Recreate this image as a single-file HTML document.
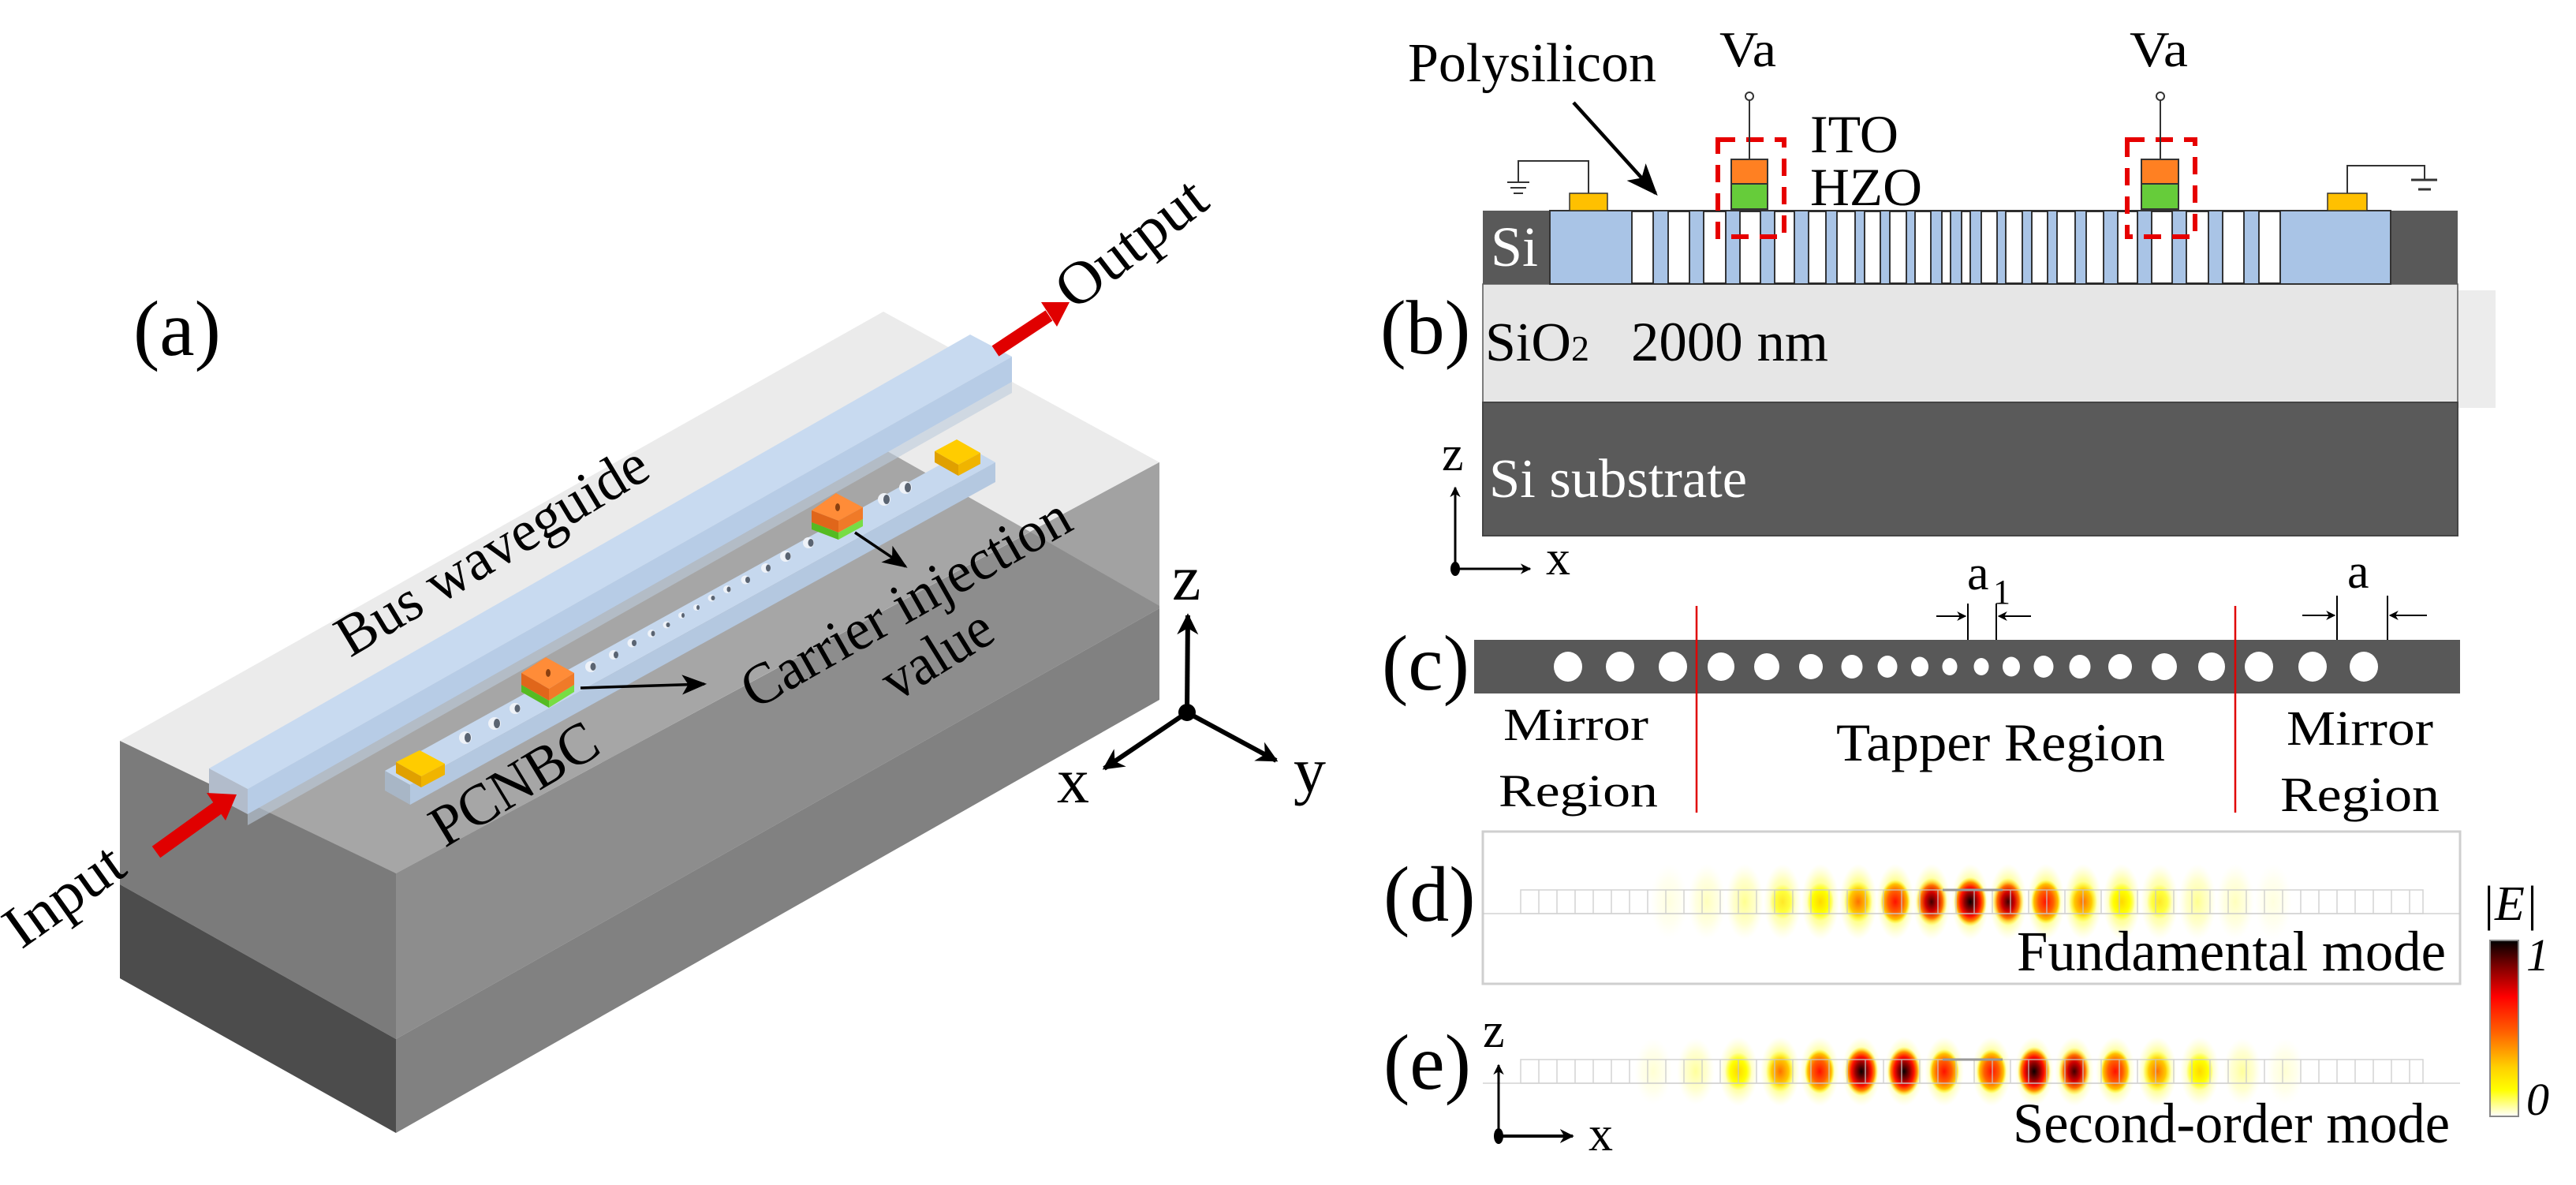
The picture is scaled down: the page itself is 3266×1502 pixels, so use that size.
<!DOCTYPE html>
<html><head><meta charset="utf-8">
<style>
html,body{margin:0;padding:0;background:#fff;}
svg{display:block;font-family:"Liberation Serif","DejaVu Serif","Times New Roman",serif;}
svg text{font-family:"Liberation Serif","DejaVu Serif","Times New Roman",serif;fill:#000;}
</style></head>
<body>
<svg width="3266" height="1502" viewBox="0 0 3266 1502" xmlns="http://www.w3.org/2000/svg" font-family="'Liberation Serif','DejaVu Serif',serif">
<defs>
<marker id="ah" viewBox="0 0 10 10" refX="9" refY="5" markerWidth="6" markerHeight="6" orient="auto-start-reverse" markerUnits="strokeWidth">
<path d="M0,0 L10,5 L0,10 L3,5 z" fill="#000"/></marker>
<marker id="ahs" viewBox="0 0 10 10" refX="9" refY="5" markerWidth="9" markerHeight="9" orient="auto" markerUnits="strokeWidth">
<path d="M0,1 L10,5 L0,9 L2.5,5 z" fill="#000"/></marker>
<marker id="ahl" viewBox="0 0 10 10" refX="9" refY="5" markerWidth="4.5" markerHeight="4.5" orient="auto" markerUnits="strokeWidth">
<path d="M0,0 L10,5 L0,10 L3,5 z" fill="#000"/></marker>
<radialGradient id="gH"><stop offset="0" stop-color="#ffff20" stop-opacity="1"/><stop offset="0.6" stop-color="#ffff60" stop-opacity="0.6"/><stop offset="1" stop-color="#ffffa0" stop-opacity="0"/></radialGradient>
<radialGradient id="gK"><stop offset="0" stop-color="#0a0000"/><stop offset="0.35" stop-color="#900000"/><stop offset="0.6" stop-color="#ff1000"/><stop offset="0.8" stop-color="#ff9000"/><stop offset="1" stop-color="#ffff00" stop-opacity="0"/></radialGradient>
<radialGradient id="gD"><stop offset="0" stop-color="#400000"/><stop offset="0.4" stop-color="#d00000"/><stop offset="0.7" stop-color="#ff7000"/><stop offset="1" stop-color="#ffff00" stop-opacity="0"/></radialGradient>
<radialGradient id="gR"><stop offset="0" stop-color="#ff1000"/><stop offset="0.5" stop-color="#ff6000"/><stop offset="0.8" stop-color="#ffc000"/><stop offset="1" stop-color="#ffff00" stop-opacity="0"/></radialGradient>
<radialGradient id="gO"><stop offset="0" stop-color="#ff7000"/><stop offset="0.6" stop-color="#ffc800"/><stop offset="1" stop-color="#ffff00" stop-opacity="0"/></radialGradient>
<radialGradient id="gY"><stop offset="0" stop-color="#ffd800"/><stop offset="0.6" stop-color="#ffff00"/><stop offset="1" stop-color="#ffff00" stop-opacity="0"/></radialGradient>
<linearGradient id="cb" x1="0" y1="0" x2="0" y2="1">
<stop offset="0" stop-color="#000"/><stop offset="0.15" stop-color="#800000"/><stop offset="0.32" stop-color="#ff0000"/><stop offset="0.52" stop-color="#ff6000"/><stop offset="0.72" stop-color="#ffd000"/><stop offset="0.85" stop-color="#ffff00"/><stop offset="1" stop-color="#ffffff"/></linearGradient>
</defs>

<!-- ================= PANEL (a) ================= -->
<text x="169" y="450" font-size="100">(a)</text>
<polygon points="152,939 1120,395 1470,586 502,1107" fill="#ebebeb"/>
<polygon points="300,1040 1118,568 1306,674 502,1107" fill="#a6a6a6"/>
<polygon points="502,1107 1470,586 1470,771 502,1317" fill="#8d8d8d"/>
<polygon points="1306,674 1470,586 1470,768" fill="#a2a2a2"/>
<polygon points="502,1317 1470,771 1470,887 502,1436" fill="#818181"/>
<polygon points="152,939 502,1107 502,1317 152,1121" fill="#7b7b7b"/>
<polygon points="152,1121 502,1317 502,1436 152,1240" fill="#4c4c4c"/>
<!-- bus waveguide -->
<polygon points="265,974 1230,424 1283,452 314,1000" fill="#c8daf0"/>
<polygon points="314,1000 1283,452 1283,484 314,1032" fill="#b7cce6"/>
<polygon points="314,1032 1283,484 1283,498 314,1046" fill="#bccbdc" opacity="0.6"/>
<polygon points="265,974 314,1000 314,1032 265,1006" fill="#b2bccb"/>
<!-- output arrow -->
<line x1="1262" y1="445" x2="1330" y2="400" stroke="#e00000" stroke-width="16"/>
<polygon points="1320,383 1356,383 1340,414" fill="#e00000"/>
<text x="1362" y="395" font-size="76" transform="rotate(-37.6 1362 395)" textLength="220" lengthAdjust="spacingAndGlyphs">Output</text>
<!-- input arrow -->
<line x1="198" y1="1080" x2="276" y2="1024" stroke="#e00000" stroke-width="18"/>
<polygon points="262,1005 300,1007 286,1040" fill="#e00000"/>
<text x="27" y="1204" font-size="76" transform="rotate(-35.5 27 1204)" textLength="168" lengthAdjust="spacingAndGlyphs">Input</text>
<!-- PCNBC bar -->
<polygon points="488,977 1230,568 1262,586 520,995" fill="#c6d8ee"/>
<polygon points="520,995 1262,586 1262,611 520,1020" fill="#b4c8e0"/>
<polygon points="488,977 520,995 520,1020 488,1002" fill="#a8b6c6"/>
<g fill="#eef2f8">
<ellipse cx="590" cy="935" rx="8" ry="8"/><ellipse cx="627" cy="917" rx="8" ry="8"/><ellipse cx="653" cy="898" rx="7" ry="7"/>
<ellipse cx="749" cy="845" rx="7" ry="7"/><ellipse cx="778" cy="830" rx="6" ry="6"/><ellipse cx="801" cy="815" rx="5.5" ry="5.5"/>
<ellipse cx="826" cy="803" rx="5" ry="5"/><ellipse cx="845" cy="792" rx="4.5" ry="4.5"/><ellipse cx="864" cy="780" rx="4" ry="4"/>
<ellipse cx="883" cy="770" rx="4" ry="4"/><ellipse cx="902" cy="758" rx="4.5" ry="4.5"/><ellipse cx="922" cy="747" rx="5" ry="5"/>
<ellipse cx="945" cy="735" rx="5.5" ry="5.5"/><ellipse cx="971" cy="720" rx="6" ry="6"/><ellipse cx="996" cy="705" rx="7" ry="7"/>
<ellipse cx="1025" cy="688" rx="7" ry="7"/><ellipse cx="1121" cy="633" rx="8" ry="8"/><ellipse cx="1148" cy="618" rx="8" ry="8"/>
</g>
<g fill="#5a6472">
<ellipse cx="593" cy="935" rx="4" ry="6"/><ellipse cx="630" cy="917" rx="4" ry="6"/><ellipse cx="656" cy="898" rx="3.5" ry="5"/>
<ellipse cx="752" cy="845" rx="3.5" ry="5"/><ellipse cx="781" cy="830" rx="3" ry="4.5"/><ellipse cx="804" cy="815" rx="3" ry="4"/>
<ellipse cx="828" cy="803" rx="2.5" ry="3.5"/><ellipse cx="847" cy="792" rx="2.5" ry="3"/><ellipse cx="866" cy="780" rx="2" ry="3"/>
<ellipse cx="885" cy="770" rx="2" ry="3"/><ellipse cx="904" cy="758" rx="2.5" ry="3"/><ellipse cx="924" cy="747" rx="2.5" ry="3.5"/>
<ellipse cx="948" cy="735" rx="3" ry="4"/><ellipse cx="974" cy="720" rx="3" ry="4.5"/><ellipse cx="999" cy="705" rx="3.5" ry="5"/>
<ellipse cx="1028" cy="688" rx="3.5" ry="5"/><ellipse cx="1124" cy="633" rx="4" ry="6"/><ellipse cx="1151" cy="618" rx="4" ry="6"/>
</g>
<polygon points="502,966 532,951 564,968 534,984" fill="#ffcc00"/>
<polygon points="502,966 534,984 534,998 502,980" fill="#e0a000"/>
<polygon points="534,984 564,968 564,982 534,998" fill="#f0b400"/>
<polygon points="1185,572 1213,557 1243,574 1215,589" fill="#ffcc00"/>
<polygon points="1185,572 1215,589 1215,603 1185,586" fill="#e0a000"/>
<polygon points="1215,589 1243,574 1243,588 1215,603" fill="#f0b400"/>
<polygon points="661,853 692,833 728,853 696,873" fill="#ff8c38"/>
<polygon points="661,853 696,873 696,888 661,868" fill="#e0661a"/>
<polygon points="696,873 728,853 728,868 696,888" fill="#f07a28"/>
<polygon points="661,868 696,888 696,897 661,877" fill="#55bb22"/>
<polygon points="696,888 728,868 728,877 696,897" fill="#77dd44"/>
<ellipse cx="695" cy="853" rx="3" ry="5" fill="#8a4010"/>
<polygon points="1029,647 1060,625 1094,643 1063,660" fill="#ff8c38"/>
<polygon points="1029,647 1063,660 1063,675 1029,662" fill="#e0661a"/>
<polygon points="1063,660 1094,643 1094,658 1063,675" fill="#f07a28"/>
<polygon points="1029,662 1063,675 1063,684 1029,671" fill="#55bb22"/>
<polygon points="1063,675 1094,658 1094,667 1063,684" fill="#77dd44"/>
<ellipse cx="1062" cy="643" rx="3" ry="5" fill="#8a4010"/>
<line x1="736" y1="872" x2="893" y2="867" stroke="#000" stroke-width="3.5" marker-end="url(#ahs)"/>
<line x1="1084" y1="675" x2="1148" y2="718" stroke="#000" stroke-width="3.5" marker-end="url(#ahs)"/>
<text x="444" y="834" font-size="74" transform="rotate(-31 444 834)" textLength="448" lengthAdjust="spacingAndGlyphs">Bus waveguide</text>
<text x="564" y="1075" font-size="74" transform="rotate(-31.2 564 1075)" textLength="235" lengthAdjust="spacingAndGlyphs">PCNBC</text>
<text x="957" y="900" font-size="74" transform="rotate(-29.5 957 900)" textLength="467" lengthAdjust="spacingAndGlyphs">Carrier injection</text>
<text x="1136" y="890" font-size="74" transform="rotate(-31.8 1136 890)" textLength="152" lengthAdjust="spacingAndGlyphs">value</text>
<g stroke="#000" stroke-width="6" fill="none">
<line x1="1505" y1="903" x2="1506" y2="780" marker-end="url(#ahl)"/>
<line x1="1505" y1="903" x2="1400" y2="974" marker-end="url(#ahl)"/>
<line x1="1505" y1="903" x2="1618" y2="964" marker-end="url(#ahl)"/>
</g>
<circle cx="1505" cy="903" r="11" fill="#000"/>
<text x="1486" y="760" font-size="82">z</text>
<text x="1340" y="1017" font-size="82">x</text>
<text x="1640" y="1004" font-size="82">y</text>

<!-- ================= PANEL (b) ================= -->
<text x="1750" y="448" font-size="98">(b)</text>
<text x="1785" y="103" font-size="70" textLength="315" lengthAdjust="spacingAndGlyphs">Polysilicon</text>
<line x1="1995" y1="130" x2="2099" y2="245" stroke="#000" stroke-width="4.5" marker-end="url(#ahs)"/>
<text x="2180" y="84" font-size="64" textLength="72" lengthAdjust="spacingAndGlyphs">Va</text>
<text x="2700" y="84" font-size="64" textLength="74" lengthAdjust="spacingAndGlyphs">Va</text>
<text x="2295" y="193" font-size="68" textLength="112" lengthAdjust="spacingAndGlyphs">ITO</text>
<text x="2295" y="260" font-size="68" textLength="142" lengthAdjust="spacingAndGlyphs">HZO</text>
<rect x="3116" y="368" width="48" height="149" fill="#ececec"/>
<rect x="1880" y="267" width="1236" height="93" fill="#595959"/>
<rect x="1880" y="360" width="1236" height="150" fill="#e6e6e6" stroke="#555" stroke-width="1.5"/>
<rect x="1880" y="510" width="1236" height="169" fill="#5a5a5a" stroke="#444" stroke-width="2"/>
<rect x="1965" y="267" width="1066" height="93" fill="#a9c4e6" stroke="#333" stroke-width="2"/>
<g fill="#fff" stroke="#222" stroke-width="1.8">
<rect x="2069" y="268" width="27" height="91"/><rect x="2115" y="268" width="27" height="91"/><rect x="2160" y="268" width="28" height="91"/>
<rect x="2206" y="268" width="26" height="91"/><rect x="2250" y="268" width="25" height="91"/><rect x="2293" y="268" width="22" height="91"/>
<rect x="2329" y="268" width="23" height="91"/><rect x="2364" y="268" width="20" height="91"/><rect x="2396" y="268" width="21" height="91"/>
<rect x="2428" y="268" width="20" height="91"/><rect x="2462" y="268" width="11" height="91"/>
<rect x="2487" y="268" width="11" height="91"/><rect x="2512" y="268" width="20" height="91"/><rect x="2543" y="268" width="21" height="91"/>
<rect x="2576" y="268" width="20" height="91"/><rect x="2608" y="268" width="23" height="91"/><rect x="2645" y="268" width="22" height="91"/>
<rect x="2685" y="268" width="25" height="91"/><rect x="2728" y="268" width="26" height="91"/><rect x="2772" y="268" width="28" height="91"/>
<rect x="2818" y="268" width="27" height="91"/><rect x="2864" y="268" width="27" height="91"/>
</g>
<text x="1890" y="337" font-size="72" style="fill:#fff">Si</text>
<text x="1883" y="457" font-size="70">SiO<tspan font-size="46">2</tspan></text>
<text x="2068" y="457" font-size="71" textLength="250" lengthAdjust="spacingAndGlyphs">2000 nm</text>
<text x="1888" y="630" font-size="70" style="fill:#fff" textLength="327" lengthAdjust="spacingAndGlyphs">Si substrate</text>
<rect x="2195" y="202" width="46" height="31" fill="#ff8022" stroke="#333" stroke-width="2"/>
<rect x="2195" y="233" width="46" height="32" fill="#66cc3a" stroke="#333" stroke-width="2"/>
<rect x="2715" y="202" width="47" height="31" fill="#ff8022" stroke="#333" stroke-width="2"/>
<rect x="2715" y="233" width="47" height="32" fill="#66cc3a" stroke="#333" stroke-width="2"/>
<g fill="none" stroke="#e60000" stroke-width="6" stroke-dasharray="22,14">
<rect x="2178" y="177" width="84" height="123"/>
<rect x="2697" y="177" width="86" height="123"/>
</g>
<g stroke="#333" stroke-width="2" fill="none">
<line x1="2218" y1="127" x2="2218" y2="202"/><circle cx="2218" cy="122" r="5" fill="#fff"/>
<line x1="2739" y1="127" x2="2739" y2="202"/><circle cx="2739" cy="122" r="5" fill="#fff"/>
<polyline points="2014,245 2014,204 1925,204 1925,230"/>
<line x1="1911" y1="231" x2="1939" y2="231"/><line x1="1915" y1="238" x2="1935" y2="238"/><line x1="1919" y1="245" x2="1931" y2="245"/>
<polyline points="2976,245 2976,210 3074,210 3074,228"/>
<line x1="3057" y1="228" x2="3090" y2="228" stroke-width="3"/><line x1="3066" y1="240" x2="3082" y2="240" stroke-width="3"/>
</g>
<rect x="1990" y="245" width="48" height="22" fill="#ffc000" stroke="#333" stroke-width="1.5"/>
<rect x="2951" y="245" width="50" height="22" fill="#ffc000" stroke="#333" stroke-width="1.5"/>
<line x1="1845" y1="721" x2="1845" y2="618" stroke="#000" stroke-width="3" marker-end="url(#ahl)"/>
<line x1="1845" y1="721" x2="1940" y2="721" stroke="#000" stroke-width="3" marker-end="url(#ahl)"/>
<ellipse cx="1845" cy="721" rx="6" ry="9" fill="#000"/>
<text x="1828" y="596" font-size="62">z</text>
<text x="1960" y="728" font-size="62">x</text>

<!-- ================= PANEL (c) ================= -->
<text x="1752" y="874" font-size="100">(c)</text>
<rect x="1869" y="811" width="1250" height="68" fill="#585858"/>
<g fill="#fff">
<ellipse cx="1988" cy="845" rx="18" ry="19"/><ellipse cx="2054" cy="845" rx="18" ry="19"/><ellipse cx="2121" cy="845" rx="18" ry="19"/>
<ellipse cx="2182" cy="845" rx="17" ry="18"/><ellipse cx="2240" cy="845" rx="16" ry="17"/><ellipse cx="2296" cy="845" rx="15" ry="16"/>
<ellipse cx="2348" cy="845" rx="13.5" ry="15"/><ellipse cx="2393" cy="845" rx="12.5" ry="14"/><ellipse cx="2434" cy="845" rx="11" ry="12.5"/>
<ellipse cx="2472" cy="845" rx="9.5" ry="11"/><ellipse cx="2512" cy="845" rx="9.5" ry="11"/><ellipse cx="2550" cy="845" rx="11" ry="12.5"/>
<ellipse cx="2591" cy="845" rx="12.5" ry="14"/><ellipse cx="2637" cy="845" rx="13.5" ry="15"/><ellipse cx="2688" cy="845" rx="15" ry="16"/>
<ellipse cx="2744" cy="845" rx="16" ry="17"/><ellipse cx="2804" cy="845" rx="17" ry="18"/><ellipse cx="2864" cy="845" rx="18" ry="19"/>
<ellipse cx="2932" cy="845" rx="18" ry="19"/><ellipse cx="2997" cy="845" rx="18" ry="19"/>
</g>
<line x1="2151" y1="768" x2="2151" y2="1030" stroke="#e00000" stroke-width="2.5"/>
<line x1="2834" y1="768" x2="2834" y2="1030" stroke="#e00000" stroke-width="2.5"/>
<g stroke="#000" stroke-width="2">
<line x1="2495" y1="765" x2="2495" y2="811"/><line x1="2531" y1="765" x2="2531" y2="811"/>
<line x1="2455" y1="781" x2="2492" y2="781" marker-end="url(#ah)"/>
<line x1="2575" y1="781" x2="2534" y2="781" marker-end="url(#ah)"/>
<line x1="2963" y1="755" x2="2963" y2="811"/><line x1="3027" y1="755" x2="3027" y2="811"/>
<line x1="2919" y1="780" x2="2960" y2="780" marker-end="url(#ah)"/>
<line x1="3077" y1="780" x2="3030" y2="780" marker-end="url(#ah)"/>
</g>
<text x="2494" y="747" font-size="62">a</text>
<text x="2527" y="765" font-size="44">1</text>
<text x="2976" y="745" font-size="62">a</text>
<text x="1906" y="938" font-size="58" textLength="184" lengthAdjust="spacingAndGlyphs">Mirror</text>
<text x="1900" y="1022" font-size="58" textLength="202" lengthAdjust="spacingAndGlyphs">Region</text>
<text x="2328" y="964" font-size="68" textLength="417" lengthAdjust="spacingAndGlyphs">Tapper Region</text>
<text x="2899" y="944" font-size="62" textLength="186" lengthAdjust="spacingAndGlyphs">Mirror</text>
<text x="2891" y="1028" font-size="62" textLength="202" lengthAdjust="spacingAndGlyphs">Region</text>

<!-- ================= PANEL (d) ================= -->
<text x="1754" y="1167" font-size="100">(d)</text>
<rect x="1880" y="1054" width="1239" height="193" fill="#fff" stroke="#cfcfcf" stroke-width="3"/>
<g fill="url(#gH)">
<ellipse cx="2116" cy="1143" rx="24" ry="48" opacity="0.15"/><ellipse cx="2164" cy="1143" rx="24" ry="48" opacity="0.3"/>
<ellipse cx="2212" cy="1143" rx="24" ry="48" opacity="0.5"/><ellipse cx="2260" cy="1143" rx="24" ry="48" opacity="0.7"/>
<ellipse cx="2308" cy="1143" rx="24" ry="48" opacity="0.9"/><ellipse cx="2356" cy="1143" rx="24" ry="48"/>
<ellipse cx="2403" cy="1143" rx="24" ry="48"/><ellipse cx="2449" cy="1143" rx="24" ry="48"/><ellipse cx="2498" cy="1143" rx="24" ry="48"/>
<ellipse cx="2546" cy="1143" rx="24" ry="48"/><ellipse cx="2594" cy="1143" rx="24" ry="48"/><ellipse cx="2641" cy="1143" rx="24" ry="48"/>
<ellipse cx="2690" cy="1143" rx="24" ry="48" opacity="0.9"/><ellipse cx="2738" cy="1143" rx="24" ry="48" opacity="0.7"/>
<ellipse cx="2786" cy="1143" rx="24" ry="48" opacity="0.5"/><ellipse cx="2834" cy="1143" rx="24" ry="48" opacity="0.3"/>
<ellipse cx="2882" cy="1143" rx="24" ry="48" opacity="0.15"/>
</g>
<ellipse cx="2260" cy="1143" rx="16" ry="22" fill="url(#gY)" opacity="0.6"/>
<ellipse cx="2308" cy="1143" rx="17" ry="24" fill="url(#gY)"/>
<ellipse cx="2356" cy="1143" rx="18" ry="26" fill="url(#gO)"/>
<ellipse cx="2403" cy="1143" rx="19" ry="28" fill="url(#gR)"/>
<ellipse cx="2449" cy="1143" rx="20" ry="30" fill="url(#gD)"/>
<ellipse cx="2498" cy="1143" rx="21" ry="31" fill="url(#gK)"/>
<ellipse cx="2546" cy="1143" rx="20" ry="30" fill="url(#gD)"/>
<ellipse cx="2594" cy="1143" rx="19" ry="28" fill="url(#gR)"/>
<ellipse cx="2641" cy="1143" rx="18" ry="26" fill="url(#gO)"/>
<ellipse cx="2690" cy="1143" rx="17" ry="24" fill="url(#gY)"/>
<ellipse cx="2738" cy="1143" rx="16" ry="22" fill="url(#gY)" opacity="0.6"/>
<g stroke="#c8c8c8" stroke-width="1.5" fill="none" opacity="0.8">
<rect x="1928" y="1128" width="1144" height="30"/>
<path d="M1951,1128v30M1974,1128v30M1997,1128v30M2020,1128v30M2043,1128v30M2066,1128v30M2089,1128v30M2112,1128v30M2135,1128v30M2158,1128v30M2181,1128v30M2204,1128v30M2227,1128v30M2250,1128v30M2273,1128v30M2296,1128v30M2319,1128v30M2342,1128v30M2365,1128v30M2388,1128v30M2411,1128v30M2434,1128v30M2457,1128v30M2480,1128v30M2503,1128v30M2526,1128v30M2549,1128v30M2572,1128v30M2595,1128v30M2618,1128v30M2641,1128v30M2664,1128v30M2687,1128v30M2710,1128v30M2733,1128v30M2756,1128v30M2779,1128v30M2802,1128v30M2825,1128v30M2848,1128v30M2871,1128v30M2894,1128v30M2917,1128v30M2940,1128v30M2963,1128v30M2986,1128v30M3009,1128v30M3032,1128v30M3055,1128v30"/>
<line x1="1880" y1="1158" x2="3119" y2="1158"/>
</g>
<line x1="2463" y1="1128" x2="2539" y2="1128" stroke="#999" stroke-width="3"/>
<text x="2557" y="1230" font-size="72" textLength="544" lengthAdjust="spacingAndGlyphs">Fundamental mode</text>
<text x="3146" y="1166" font-size="62" font-style="italic">|E|</text>
<rect x="3157" y="1192" width="36" height="223" fill="url(#cb)" stroke="#888" stroke-width="2"/>
<text x="3203" y="1230" font-size="58" font-style="italic">1</text>
<text x="3203" y="1413" font-size="58" font-style="italic">0</text>

<!-- ================= PANEL (e) ================= -->
<text x="1754" y="1380" font-size="100">(e)</text>
<g fill="url(#gH)">
<ellipse cx="2096" cy="1358" rx="24" ry="42" opacity="0.2"/><ellipse cx="2150" cy="1358" rx="24" ry="42" opacity="0.45"/>
<ellipse cx="2204" cy="1358" rx="25" ry="44" opacity="0.8"/><ellipse cx="2257" cy="1358" rx="25" ry="44"/>
<ellipse cx="2307" cy="1358" rx="25" ry="44"/><ellipse cx="2360" cy="1358" rx="25" ry="44"/><ellipse cx="2414" cy="1358" rx="25" ry="44"/>
<ellipse cx="2465" cy="1358" rx="25" ry="44"/><ellipse cx="2525" cy="1358" rx="25" ry="44"/><ellipse cx="2579" cy="1358" rx="25" ry="44"/>
<ellipse cx="2630" cy="1358" rx="25" ry="44"/><ellipse cx="2682" cy="1358" rx="25" ry="44"/><ellipse cx="2735" cy="1358" rx="25" ry="44"/>
<ellipse cx="2789" cy="1358" rx="25" ry="44" opacity="0.8"/><ellipse cx="2843" cy="1358" rx="24" ry="42" opacity="0.45"/>
<ellipse cx="2897" cy="1358" rx="24" ry="42" opacity="0.2"/>
</g>
<ellipse cx="2204" cy="1358" rx="17" ry="24" fill="url(#gY)"/>
<ellipse cx="2257" cy="1358" rx="18" ry="26" fill="url(#gO)"/>
<ellipse cx="2307" cy="1358" rx="19" ry="28" fill="url(#gR)"/>
<ellipse cx="2360" cy="1358" rx="21" ry="31" fill="url(#gK)"/>
<ellipse cx="2414" cy="1358" rx="21" ry="31" fill="url(#gK)"/>
<ellipse cx="2465" cy="1358" rx="19" ry="28" fill="url(#gR)"/>
<ellipse cx="2525" cy="1358" rx="19" ry="28" fill="url(#gR)"/>
<ellipse cx="2579" cy="1358" rx="21" ry="31" fill="url(#gK)"/>
<ellipse cx="2630" cy="1358" rx="20" ry="30" fill="url(#gD)"/>
<ellipse cx="2682" cy="1358" rx="19" ry="28" fill="url(#gR)"/>
<ellipse cx="2735" cy="1358" rx="18" ry="26" fill="url(#gO)"/>
<ellipse cx="2789" cy="1358" rx="17" ry="24" fill="url(#gY)"/>
<g stroke="#c8c8c8" stroke-width="1.5" fill="none" opacity="0.8">
<rect x="1928" y="1343" width="1144" height="30"/>
<path d="M1951,1343v30M1974,1343v30M1997,1343v30M2020,1343v30M2043,1343v30M2066,1343v30M2089,1343v30M2112,1343v30M2135,1343v30M2158,1343v30M2181,1343v30M2204,1343v30M2227,1343v30M2250,1343v30M2273,1343v30M2296,1343v30M2319,1343v30M2342,1343v30M2365,1343v30M2388,1343v30M2411,1343v30M2434,1343v30M2457,1343v30M2480,1343v30M2503,1343v30M2526,1343v30M2549,1343v30M2572,1343v30M2595,1343v30M2618,1343v30M2641,1343v30M2664,1343v30M2687,1343v30M2710,1343v30M2733,1343v30M2756,1343v30M2779,1343v30M2802,1343v30M2825,1343v30M2848,1343v30M2871,1343v30M2894,1343v30M2917,1343v30M2940,1343v30M2963,1343v30M2986,1343v30M3009,1343v30M3032,1343v30M3055,1343v30"/>
<line x1="1880" y1="1373" x2="3119" y2="1373"/>
</g>
<line x1="2463" y1="1343" x2="2539" y2="1343" stroke="#999" stroke-width="3"/>
<text x="2552" y="1448" font-size="72" textLength="554" lengthAdjust="spacingAndGlyphs">Second-order mode</text>
<line x1="1900" y1="1440" x2="1900" y2="1350" stroke="#000" stroke-width="3" marker-end="url(#ahl)"/>
<line x1="1900" y1="1440" x2="1994" y2="1440" stroke="#000" stroke-width="4" marker-end="url(#ahl)"/>
<ellipse cx="1900" cy="1440" rx="6" ry="10" fill="#000"/>
<text x="1880" y="1327" font-size="62">z</text>
<text x="2014" y="1458" font-size="62">x</text>
</svg>
</body></html>
